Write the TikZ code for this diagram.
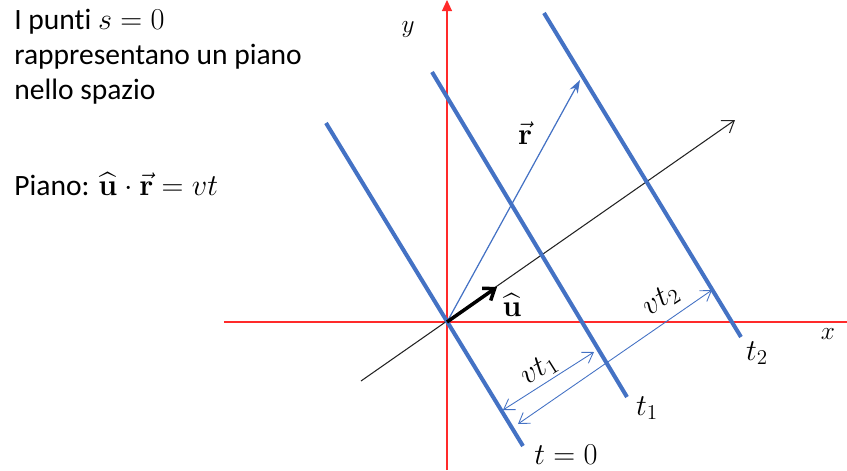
\documentclass[tikz,border=0pt]{standalone}
\usepackage{amsmath}
\usepackage[no-math]{fontspec}
\setmainfont{Carlito}[Ligatures=NoCommon]
\usetikzlibrary{arrows.meta}
\definecolor{PlaneBlue}{HTML}{4472C4}
\definecolor{AxisRed}{HTML}{FF2A2A}
\definecolor{NormInk}{HTML}{222222}

\begin{document}
\begin{tikzpicture}[font=\fontsize{16.8}{20}\selectfont,
  axis/.style={AxisRed, line width=0.6pt},
  plane/.style={PlaneBlue, line width=2.3pt},
  dist/.style={PlaneBlue, line width=0.5pt,
    {Straight Barb[length=2mm,width=2.6mm]}-{Straight Barb[length=2mm,width=2.6mm]}},
  lbl/.style={inner sep=1pt, font=\fontsize{16.5}{18}\selectfont}]
  \useasboundingbox (-8.94,-2.96) rectangle (8.0,6.44);
  % text on the left
  \node[anchor=north west, align=left, inner sep=0pt] (intro) at (-8.66,6.26)
    {I punti $s=0$\\rappresentano un piano\\nello spazio};
  \node[anchor=base west, inner sep=0pt] (eqn) at (-8.66,2.54)
    {Piano: $\widehat{\mathbf{u}}\cdot\vec{\mathbf{r}}=vt$};
  % axes
  \coordinate (O) at (0,0);
  \coordinate (xa) at (-4.46,0);
  \coordinate (xb) at (8.0,0);
  \coordinate (ya) at (0,-2.96);
  \coordinate (yb) at (0,6.44);
  \draw[axis] (xa) -- (xb);
  \draw[axis, -{Triangle[length=2.2mm,width=2mm]}] (ya) -- (yb);
  \node[lbl, font=\fontsize{14}{16}\selectfont] (xl) at (7.62,-0.24) {$x$};
  \node[lbl, font=\fontsize{14}{16}\selectfont] (yl) at (-0.78,5.84) {$y$};
  % normal direction
  \coordinate (na) at (-1.72,-1.18);
  \coordinate (nb) at (5.76,4.04);
  \draw[NormInk, line width=0.6pt, -{Straight Barb[length=2.2mm,width=3mm]}] (na) -- (nb);
  % the planes at t=0, t1, t2
  \coordinate (p0a) at (-2.42,3.98);
  \coordinate (p0b) at (1.52,-2.48);
  \coordinate (p1a) at (-0.3,5.0);
  \coordinate (p1b) at (3.6,-1.5);
  \coordinate (p2a) at (1.94,6.18);
  \coordinate (p2b) at (5.88,-0.3);
  \draw[plane] (p0a) -- (p0b);
  \draw[plane] (p1a) -- (p1b);
  \draw[plane] (p2a) -- (p2b);
  \node[lbl] (l0) at (2.38,-2.66) {$t=0$};
  \node[lbl] (l1) at (4.0,-1.72) {$t_1$};
  \node[lbl] (l2) at (6.2,-0.62) {$t_2$};
  % position and unit vector
  \coordinate (r) at (2.66,4.84);
  \coordinate (u) at (1.0,0.7);
  \draw[PlaneBlue, line width=0.7pt, -{Stealth[length=2.6mm,width=1.8mm]}] (O) -- (r);
  \node[lbl] (rl) at (1.56,3.78) {$\vec{\mathbf{r}}$};
  \draw[black, line width=2pt, -{Straight Barb[length=2mm,width=3mm]}] (O) -- (u);
  \node[lbl] (ul) at (1.3,0.34) {$\widehat{\mathbf{u}}$};
  % distances travelled
  \coordinate (d1a) at (1.12,-1.76);
  \coordinate (d1b) at (2.94,-0.6);
  \coordinate (d2a) at (1.42,-2.04);
  \coordinate (d2b) at (5.3,0.64);
  \draw[dist] (d1a) -- (d1b);
  \draw[dist] (d2a) -- (d2b);
  \node[lbl, rotate=32] (v1) at (1.84,-0.96) {$vt_1$};
  \node[lbl, rotate=33] (v2) at (4.28,0.44) {$vt_2$};
\end{tikzpicture}
\end{document}
